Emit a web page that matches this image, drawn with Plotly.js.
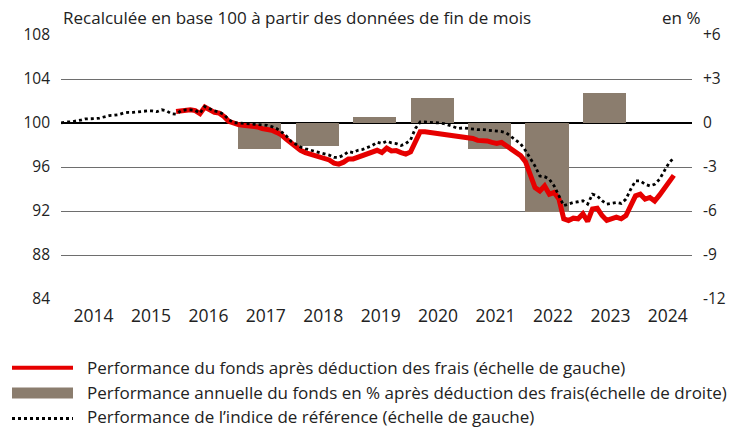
<!DOCTYPE html>
<html>
<head>
<meta charset="utf-8">
<script src="https://cdn.plot.ly/plotly-3.0.1.min.js"></script>
<style>html,body{margin:0;padding:0;background:#fff;}#chart{width:732px;height:429px;}</style>
</head>
<body>
<div id="chart"></div>
<script>
// Monthly month-end series, first point = Dec 2013
const startYear = 2013, startMonth = 12;
const benchmark = [
100,100.1,100.1,100.15,100.25,100.37,100.37,100.4,100.45,100.55,100.67,100.7,
100.76,100.9,100.97,100.97,101.03,101.06,101.1,101.1,101.03,101.2,101.1,100.85,
100.8,101.1,101.2,101.2,101.15,100.9,101.5,101.3,101.1,101.0,100.76,100.3,
100.03,100.0,99.97,99.94,99.9,99.88,99.85,99.79,99.67,99.49,99.2,98.85,
98.34,98.04,97.81,97.66,97.55,97.46,97.31,97.17,97.08,96.88,96.88,97.08,
97.4,97.31,97.52,97.6,97.75,97.96,98.25,98.13,98.34,98.19,98.13,97.96,
98.13,98.48,99.5,100.09,100.09,100.09,100.03,100.0,99.94,99.8,99.65,99.5,
99.56,99.5,99.42,99.4,99.4,99.35,99.3,99.25,99.22,99.1,98.77,98.47,
98.1,97.5,96.85,96.08,95.18,95.12,94.88,94.28,93.38,92.49,92.63,92.78,
92.84,92.93,92.63,93.53,93.38,92.93,92.63,92.72,92.78,92.69,93.08,93.98,
94.73,94.73,94.43,94.28,94.43,94.88,95.63,96.38,96.83
];
// Fund series starts Dec 2015 (24 months after start)
const fundStartOffset = 24;
const fund = [
101.04,101.13,101.2,101.2,101.13,100.85,101.45,101.2,100.97,100.9,100.6,100.15,
99.94,99.85,99.79,99.76,99.7,99.64,99.49,99.46,99.34,99.15,98.92,98.55,
98.19,97.75,97.52,97.31,97.17,97.02,96.96,96.73,96.64,96.35,96.26,96.44,
96.73,96.73,96.88,97.02,97.17,97.31,97.52,97.31,97.72,97.46,97.49,97.31,
97.17,97.37,98.19,99.21,99.21,99.15,99.07,99.07,99.01,98.92,98.83,98.77,
98.72,98.66,98.6,98.42,98.42,98.37,98.24,98.15,98.24,97.96,97.55,97.4,
97.03,96.48,95.4,94.13,93.83,94.28,93.53,93.68,93.08,91.29,91.14,91.35,
91.29,91.74,91.05,92.19,92.25,91.59,91.14,91.29,91.44,91.29,91.59,92.49,
93.38,93.53,93.08,93.23,92.9,93.44,93.98,94.64,95.24
];
const barYears = [2017,2018,2019,2020,2021,2022,2023];
const barValues = [-1.75,-1.6,0.4,1.7,-1.78,-6.1,2.05];
const yearLabels = ['2014','2015','2016','2017','2018','2019','2020','2021','2022','2023','2024'];
const leftTicks = [84,88,92,96,100,104,108];
const rightTicks = [-12,-9,-6,-3,0,3,6];
const rightTickText = ['-12','-9','-6','-3','0','+3','+6'];
const titleText = 'Recalculée en base 100 à partir des données de fin de mois';
const unitText = 'en %';
const legendTexts = [
 'Performance du fonds après déduction des frais (échelle de gauche)',
 'Performance annuelle du fonds en % après déduction des frais(échelle de droite)',
 'Performance de l\u2019indice de référence (échelle de gauche)'
];

// month index helpers (0 = Dec 2013)
const idx = (y, m) => (y - startYear) * 12 + (m - startMonth);
const xBench = benchmark.map((_, i) => i);
const xFund = fund.map((_, i) => i + fundStartOffset);
const xBars = barYears.map(y => idx(y, 1) + 4.5);
const xTicks = yearLabels.map(y => idx(+y, 1) + 5.75);

const RED = '#e60000', BROWN = '#8b7d6e', TXT = '#222222';
const FONT = 'Open Sans, Liberation Sans, sans-serif';

const W = 732, H = 429, ML = 61, MR = 40, MT = 35, MB = 130;
const PW = W - ML - MR, PH = H - MT - MB;
const px = x => (x - ML) / PW;
const py = y => (H - MB - y) / PH;

// bars on main (right, %) axis; lines on overlay (left, index) axis so they draw on top
const traces = [
 {type:'bar', x:xBars, y:barValues, yaxis:'y', width:9, marker:{color:BROWN, line:{width:0}}, hoverinfo:'skip'},
 {type:'scatter', mode:'lines', x:xFund, y:fund, yaxis:'y2', line:{color:RED, width:5}, hoverinfo:'skip'},
 {type:'scatter', mode:'lines', x:xBench, y:benchmark, yaxis:'y2', line:{color:'#000', width:2.8, dash:'dot'}, hoverinfo:'skip'}
];

const shapes = [
 {type:'line', xref:'paper', yref:'paper', x0:px(12), x1:px(73), y0:py(367.7), y1:py(367.7), line:{color:RED, width:4}},
 {type:'rect', xref:'paper', yref:'paper', x0:px(12), x1:px(73), y0:py(387.5), y1:py(398.5), fillcolor:BROWN, line:{width:0}},
 {type:'line', xref:'paper', yref:'paper', x0:px(12), x1:px(73), y0:py(418.5), y1:py(418.5), line:{color:'#000', width:2.8, dash:'dot'}}
];

const annotations = [
 {xref:'paper', yref:'paper', x:px(62), y:py(18), xanchor:'left', yanchor:'middle', text:titleText, showarrow:false, borderpad:0, font:{family:FONT, size:17, color:TXT}},
 {xref:'paper', yref:'paper', x:px(701), y:py(18), xanchor:'right', yanchor:'middle', text:unitText, showarrow:false, borderpad:0, font:{family:FONT, size:17, color:TXT}},
 ...legendTexts.map((t, k) => ({xref:'paper', yref:'paper', x:px(86), y:py([368, 392.5, 416.5][k]), xanchor:'left', yanchor:'middle', text:t, showarrow:false, borderpad:0, font:{family:FONT, size:17, color:TXT}}))
];

const layout = {
 width:W, height:H, margin:{l:ML, r:MR, t:MT, b:MB, pad:0},
 paper_bgcolor:'#fff', plot_bgcolor:'#fff', showlegend:false, bargap:0,
 font:{family:FONT, color:TXT},
 xaxis:{range:[-0.05, 131.8], tickvals:xTicks, ticktext:yearLabels, showgrid:false, zeroline:false, showline:false, ticks:'', tickfont:{size:17.5, color:TXT}, ticklabelstandoff:4, fixedrange:true},
 yaxis:{range:[-12,6], side:'right', tickvals:rightTicks, ticktext:rightTickText, showgrid:true, gridcolor:'#6e6e6e', gridwidth:1, zeroline:true, zerolinecolor:'#000', zerolinewidth:2, showline:false, ticks:'', tickfont:{size:15.5, color:TXT}, ticklabelstandoff:10, fixedrange:true},
 yaxis2:{range:[84,108], overlaying:'y', side:'left', tickvals:leftTicks, showgrid:false, zeroline:false, showline:false, ticks:'', tickfont:{size:15.5, color:TXT}, ticklabelstandoff:10, fixedrange:true},
 shapes:shapes, annotations:annotations
};

Plotly.newPlot('chart', traces, layout, {staticPlot:true, displayModeBar:false});
</script>
</body>
</html>
